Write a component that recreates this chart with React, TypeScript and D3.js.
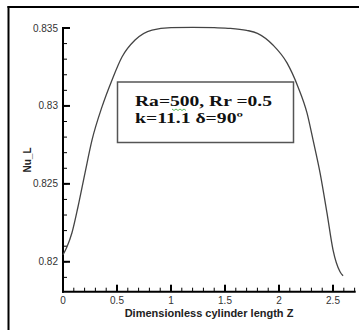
import React from "react";
import * as d3 from "d3";

const zValues = [0, 0.037, 0.083, 0.139, 0.204, 0.269, 0.361, 0.454, 0.546, 0.667, 0.824, 1.0, 1.2, 1.4, 1.55, 1.7, 1.8, 1.944, 2.074, 2.176, 2.259, 2.315, 2.38, 2.444, 2.5, 2.565, 2.593];
const nuValues = [0.82045, 0.82096, 0.82186, 0.82353, 0.82571, 0.82782, 0.82994, 0.83167, 0.83314, 0.83423, 0.83487, 0.83502, 0.83504, 0.83502, 0.83498, 0.83485, 0.83466, 0.83391, 0.83276, 0.83122, 0.82955, 0.82782, 0.82571, 0.82314, 0.82077, 0.81936, 0.8191];
const xMajorTicks = [0, 0.5, 1, 1.5, 2, 2.5];
const xTickLabels = ["0", "0.5", "1", "1.5", "2", "2.5"];
const yMajorTicks = [0.82, 0.825, 0.83, 0.835];
const yTickLabels = ["0.82", "0.825", "0.83", "0.835"];
const xLabel = "Dimensionless cylinder length Z";
const yLabel = "Nu_L";

export default function App() {
  const W = 359, H = 330;
  const x = d3.scaleLinear().domain([0, 2.71]).range([63, 355.7]);
  const y = d3.scaleLinear().domain([0.81808, 0.835]).range([291.7, 28]);
  const line = d3.line<number>().x((d, i) => x(zValues[i])).y((d) => y(d)).curve(d3.curveMonotoneX);
  const xMinor = d3.range(0, 27.5).map((i) => i / 10).filter((v) => v <= 2.71);
  const yMinor = d3.range(819, 835.5).map((v) => v / 1000);
  const axisFont = "Arial, 'Liberation Sans', sans-serif";
  const serif = "'Times New Roman', 'Liberation Serif', serif";
  const wave = d3.range(0, 8).map((i) => `${172 + i * 2},${i % 2 === 0 ? 109 : 110.5}`).join(" ");
  return (
    <svg width={W} height={H} style={{ position: "absolute", left: 0, top: 0, background: "#fff" }}>
      <rect x={0} y={0} width={W} height={H} fill="#fff" />
      {/* frame */}
      <line x1={8.5} y1={6} x2={8.5} y2={H} stroke="#000" strokeWidth={2} />
      <line x1={7.5} y1={7} x2={W} y2={7} stroke="#000" strokeWidth={2} />
      {/* axes */}
      <line x1={x(0)} y1={y(0.835) - 1} x2={x(0)} y2={y(0.81808) + 1} stroke="#000" strokeWidth={2} />
      <line x1={x(0) - 1} y1={y(0.81808)} x2={x(2.71)} y2={y(0.81808)} stroke="#000" strokeWidth={2} />
      {xMinor.map((v, i) => (
        <line key={"xm" + i} x1={x(v)} x2={x(v)} y1={y(0.81808)} y2={y(0.81808) - 4} stroke="#000" strokeWidth={1} />
      ))}
      {xMajorTicks.map((v, i) => (
        <g key={"xM" + i}>
          <line x1={x(v)} x2={x(v)} y1={y(0.81808)} y2={y(0.81808) - 7} stroke="#000" strokeWidth={2} />
          <text x={x(v)} y={y(0.81808) + 12} textAnchor="middle" fontFamily={axisFont} fontSize={10} fill="#333">{xTickLabels[i]}</text>
        </g>
      ))}
      {yMinor.map((v, i) => (
        <line key={"ym" + i} x1={x(0)} x2={x(0) + 4} y1={y(v)} y2={y(v)} stroke="#000" strokeWidth={1} />
      ))}
      {yMajorTicks.map((v, i) => (
        <g key={"yM" + i}>
          <line x1={x(0)} x2={x(0) + 7} y1={y(v)} y2={y(v)} stroke="#000" strokeWidth={2} />
          <text x={58} y={y(v) + 3.5} textAnchor="end" fontFamily={axisFont} fontSize={10} fill="#333">{yTickLabels[i]}</text>
        </g>
      ))}
      <text x={209} y={317} textAnchor="middle" fontFamily={axisFont} fontSize={11} fontWeight="bold" fill="#222">{xLabel}</text>
      <text transform="translate(31,160) rotate(-90)" textAnchor="middle" fontFamily={axisFont} fontSize={10} fontWeight="bold" fill="#222">{yLabel}</text>
      {/* curve */}
      <path d={line(nuValues) || ""} fill="none" stroke="#444" strokeWidth={1.3} />
      {/* annotation box */}
      <rect x={117.5} y={82} width={176} height={60.5} fill="#fff" stroke="#555" strokeWidth={1.5} />
      <text x={135} y={106} fontFamily={serif} fontSize={15} fontWeight="bold" fill="#111" textLength={137} lengthAdjust="spacingAndGlyphs">Ra=500, Rr =0.5</text>
      <polyline points={wave} fill="none" stroke="#3a3" strokeWidth={0.8} />
      <text x={135} y={123} fontFamily={serif} fontSize={15} fontWeight="bold" fill="#111" textLength={108} lengthAdjust="spacingAndGlyphs">k=11.1 δ=90º</text>
    </svg>
  );
}
